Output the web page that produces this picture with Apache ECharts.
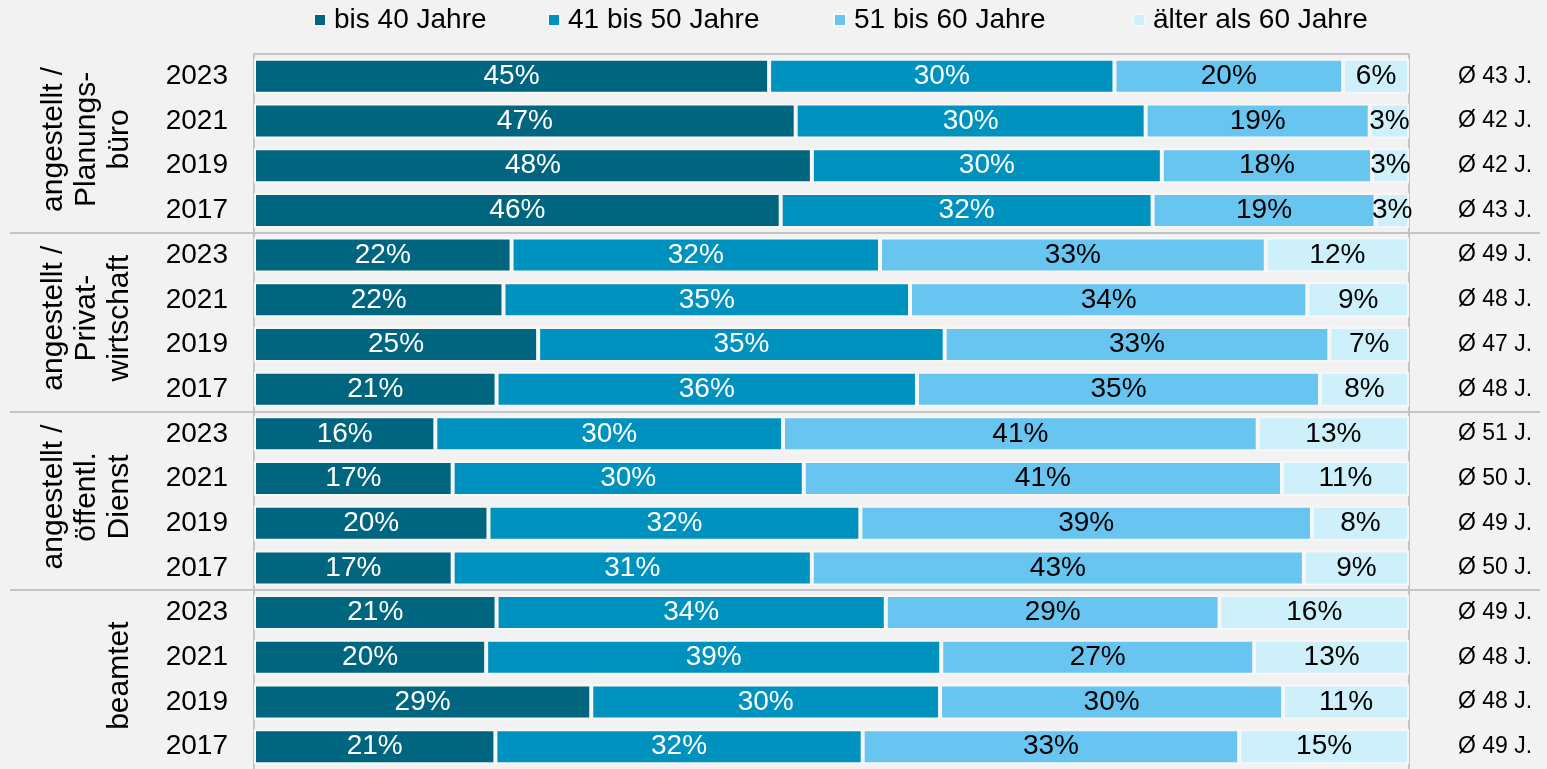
<!DOCTYPE html>
<html>
<head>
<meta charset="utf-8">
<script src="https://cdn.jsdelivr.net/npm/echarts@6/dist/echarts.min.js"></script>
<style>
html,body{margin:0;padding:0;background:#f2f2f2;}
#main{width:1547px;height:769px;}
</style>
</head>
<body>
<div id="main"></div>
<script>
// Altersverteilung nach Beschäftigungsart und Jahr
var groups = ['angestellt /\nPlanungs-\nbüro', 'angestellt /\nPrivat-\nwirtschaft', 'angestellt /\nöffentl.\nDienst', 'beamtet'];
var years = ['2023', '2021', '2019', '2017'];
var seriesNames = ['bis 40 Jahre', '41 bis 50 Jahre', '51 bis 60 Jahre', 'älter als 60 Jahre'];

var bis40 = [44.6, 46.9, 48.3, 45.6, 22.3, 21.6, 24.6, 21.0, 15.7, 17.2, 20.3, 17.2, 21.0, 20.1, 29.2, 20.9];
var bis50 = [29.9, 30.3, 30.3, 32.2, 31.9, 35.2, 35.2, 36.4, 30.1, 30.4, 32.2, 31.1, 33.7, 39.4, 30.2, 31.8];
var bis60 = [19.8, 19.4, 18.2, 19.3, 33.4, 34.4, 33.3, 34.9, 41.1, 41.4, 39.1, 42.6, 28.9, 27.1, 29.7, 32.6];
var ueber60 = [5.7, 3.4, 3.2, 2.9, 12.4, 8.8, 6.9, 7.7, 13.1, 11.0, 8.4, 9.1, 16.4, 13.4, 10.9, 14.7];
var avgAge = [43, 42, 42, 43, 49, 48, 47, 48, 51, 50, 49, 50, 49, 48, 48, 49];

var colors = ['#00657f', '#0092be', '#68c5f0', '#cdf0fb'];
var labelColors = ['#ffffff', '#ffffff', '#000000', '#000000'];
var legendLeft = [313, 547, 833, 1132];
var font = "'Liberation Sans', Arial, sans-serif";

var rowKeys = [];
var rowYears = [];
for (var g = 0; g < groups.length; g++) {
    for (var y = 0; y < years.length; y++) {
        rowKeys.push(g + '-' + years[y]);
        rowYears.push(years[y]);
    }
}

var values = [bis40, bis50, bis60, ueber60];
var series = [];
for (var s = 0; s < values.length; s++) {
    series.push({
        name: seriesNames[s],
        type: 'bar',
        stack: 'total',
        barWidth: 35,
        data: values[s],
        itemStyle: {color: colors[s], borderColor: '#f7f7f7', borderWidth: 2},
        label: {
            show: true,
            position: 'inside',
            color: labelColors[s],
            fontFamily: font,
            fontSize: 28,
            formatter: function (p) { return Math.round(p.value) + '%'; }
        }
    });
}

var legends = [];
for (var l = 0; l < seriesNames.length; l++) {
    legends.push({
        data: [seriesNames[l]],
        left: legendLeft[l],
        top: 6,
        padding: 0,
        icon: 'rect',
        itemWidth: 12,
        itemHeight: 12,
        selectedMode: false,
        textStyle: {fontFamily: font, fontSize: 28, color: '#000', padding: [0, 0, 0, 3]}
    });
}

var chart = echarts.init(document.getElementById('main'));
var option = {
    backgroundColor: '#f2f2f2',
    animation: false,
    legend: legends,
    grid: {left: 254, top: 54, width: 1155, height: 718.6},
    xAxis: {
        type: 'value',
        position: 'top',
        min: 0,
        max: 100,
        interval: 100,
        axisLine: {show: true, lineStyle: {color: '#c4c4c4', width: 2}},
        axisTick: {show: false},
        axisLabel: {show: false},
        splitLine: {show: true, lineStyle: {color: '#c4c4c4', width: 2}}
    },
    yAxis: [{
        type: 'category',
        data: rowKeys,
        inverse: true,
        axisLine: {show: true, lineStyle: {color: '#c4c4c4', width: 2}},
        axisTick: {show: false},
        axisLabel: {
            margin: 26,
            fontFamily: font,
            fontSize: 28,
            color: '#000',
            formatter: function (v, i) { return rowYears[i]; }
        }
    }, {
        type: 'category',
        data: rowKeys,
        inverse: true,
        position: 'right',
        axisLine: {show: false},
        axisTick: {show: false},
        axisLabel: {
            margin: 49,
            align: 'left',
            fontFamily: font,
            fontSize: 23,
            color: '#000',
            formatter: function (v, i) { return 'Ø ' + avgAge[i] + ' J.'; }
        }
    }],
    series: series
};
chart.setOption(option);

// Trennlinien und Gruppenbeschriftungen
var graphics = [];
for (var k = 0; k < groups.length; k++) {
    var first = chart.convertToPixel({yAxisIndex: 0}, rowKeys[k * 4]);
    var last = chart.convertToPixel({yAxisIndex: 0}, rowKeys[k * 4 + 3]);
    graphics.push({
        type: 'text',
        x: 136,
        y: (first + last) / 2 - 4,
        rotation: Math.PI / 2,
        style: {
            text: groups[k],
            fontFamily: font,
            fontSize: 30,
            lineHeight: 33,
            fill: '#000',
            align: 'center',
            verticalAlign: 'bottom'
        }
    });
    if (k < groups.length - 1) {
        var next = chart.convertToPixel({yAxisIndex: 0}, rowKeys[k * 4 + 4]);
        var yy = Math.round((last + next) / 2);
        graphics.push({
            type: 'line',
            shape: {x1: 10, y1: yy, x2: 1540, y2: yy},
            style: {stroke: '#c4c4c4', lineWidth: 2}
        });
    }
}
chart.setOption({graphic: graphics});
</script>
</body>
</html>
